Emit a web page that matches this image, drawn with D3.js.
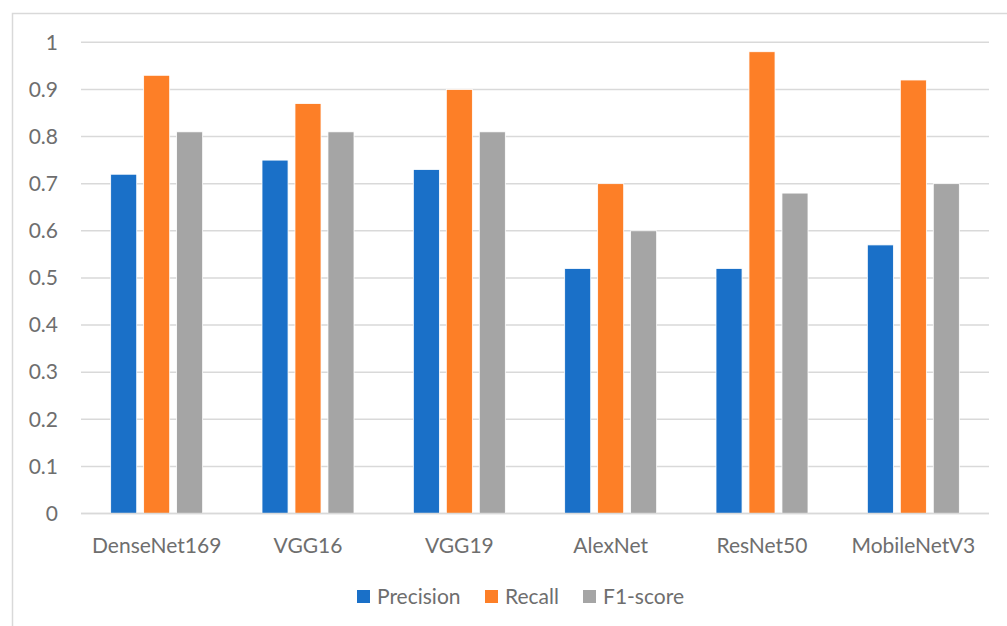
<!DOCTYPE html>
<html>
<head>
<meta charset="utf-8">
<script src="https://cdn.jsdelivr.net/npm/d3@7"></script>
<style>
  html, body { margin: 0; padding: 0; background: #fff; }
  svg { display: block; font-family: Lato, "Open Sans", sans-serif; }
</style>
</head>
<body>
<svg id="chart" width="1007" height="626"></svg>
<script>
// Model names along the x axis
const categories = ["DenseNet169", "VGG16", "VGG19", "AlexNet", "ResNet50", "MobileNetV3"];
// Metric names (legend order)
const seriesNames = ["Precision", "Recall", "F1-score"];
// Scores per model
const precision = [0.72, 0.75, 0.73, 0.52, 0.52, 0.57];
const recall    = [0.93, 0.87, 0.90, 0.70, 0.98, 0.92];
const f1score   = [0.81, 0.81, 0.81, 0.60, 0.68, 0.70];
// Y axis ticks
const yTicks = [0, 0.1, 0.2, 0.3, 0.4, 0.5, 0.6, 0.7, 0.8, 0.9, 1];

const seriesValues = [precision, recall, f1score];
const colors = ["#1A70C8", "#FD7F27", "#A5A5A5"];
const textColor = "#6E6E6E";
const fontSize = 21;

const svg = d3.select("#chart");
const W = 1007, H = 626;

// Chart frame
svg.append("rect")
  .attr("x", 12.5).attr("y", 13.5)
  .attr("width", W + 10).attr("height", H + 10)
  .attr("fill", "none").attr("stroke", "#D9D9D9").attr("stroke-width", 1.5);

const plot = { left: 81, right: 989, top: 42.3, bottom: 513.5 };

const y = d3.scaleLinear().domain([0, 1]).range([plot.bottom, plot.top]);
const x = d3.scaleBand().domain(categories).range([plot.left, plot.right]).paddingInner(0).paddingOuter(0);
const inner = d3.scaleBand().domain(seriesNames).range([0, 92]).paddingInner(0.21).paddingOuter(0);

// Gridlines
svg.append("g")
  .selectAll("line")
  .data(yTicks)
  .join("line")
  .attr("x1", plot.left).attr("x2", plot.right)
  .attr("y1", d => y(d)).attr("y2", d => y(d))
  .attr("stroke", "#D9D9D9").attr("stroke-width", 1.5);

// Y tick labels
svg.append("g")
  .selectAll("text")
  .data(yTicks)
  .join("text")
  .attr("x", 58).attr("y", d => y(d))
  .attr("dy", "0.35em")
  .attr("text-anchor", "end")
  .attr("fill", textColor)
  .attr("font-size", fontSize)
  .text(d => d3.format("")(+d.toFixed(1)));

// Bars
const groups = svg.append("g")
  .selectAll("g")
  .data(categories)
  .join("g")
  .attr("transform", d => `translate(${x(d) + x.bandwidth() / 2 - 46},0)`);

groups.selectAll("rect")
  .data((c, i) => seriesNames.map((s, k) => ({ s, k, v: seriesValues[k][i] })))
  .join("rect")
  .attr("x", d => inner(d.s))
  .attr("width", inner.bandwidth())
  .attr("y", d => y(d.v))
  .attr("height", d => y(0) - y(d.v))
  .attr("fill", d => colors[d.k])
  .attr("stroke", "#fff").attr("stroke-width", 0.8);

// Baseline
svg.append("line")
  .attr("x1", plot.left).attr("x2", plot.right)
  .attr("y1", y(0)).attr("y2", y(0))
  .attr("stroke", "#D9D9D9").attr("stroke-width", 1.5);

// Category labels
svg.append("g")
  .selectAll("text")
  .data(categories)
  .join("text")
  .attr("x", d => x(d) + x.bandwidth() / 2)
  .attr("y", 546)
  .attr("dy", "0.35em")
  .attr("text-anchor", "middle")
  .attr("fill", textColor)
  .attr("font-size", fontSize)
  .text(d => d);

// Legend
const legendX = [357, 485, 583];
const legend = svg.append("g")
  .selectAll("g")
  .data(seriesNames)
  .join("g")
  .attr("transform", (d, i) => `translate(${legendX[i]},590)`);
legend.append("rect")
  .attr("width", 13).attr("height", 13)
  .attr("fill", (d, i) => colors[i]);
legend.append("text")
  .attr("x", 20).attr("y", 6.5).attr("dy", "0.35em")
  .attr("fill", textColor).attr("font-size", fontSize)
  .text(d => d);
</script>
</body>
</html>
